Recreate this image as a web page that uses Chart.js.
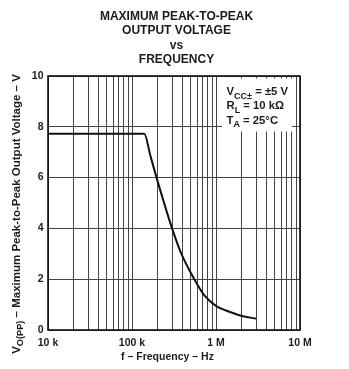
<!DOCTYPE html>
<html>
<head>
<meta charset="utf-8">
<script src="https://cdn.jsdelivr.net/npm/chart.js@4.4.1/dist/chart.umd.min.js"></script>
<style>
  html, body { margin: 0; padding: 0; background: #fff; }
  canvas { display: block; }
</style>
</head>
<body>
<canvas id="vppChart" width="349" height="369"></canvas>
<script>
// values
var freqHz = [10000, 140000, 165000, 200000, 300000, 383000, 552000, 740000, 1000000, 1500000, 2100000, 3000000];
var vppVolts = [7.73, 7.73, 6.88, 5.9, 4.0, 3.04, 2.0, 1.33, 0.95, 0.7, 0.54, 0.45];

var xTickValues = [1e4, 1e5, 1e6, 1e7];
var xTickLabels = ['10 k', '100 k', '1 M', '10 M'];
var yTickValues = [0, 2, 4, 6, 8, 10];

var titleLines = ['MAXIMUM PEAK-TO-PEAK', 'OUTPUT VOLTAGE', 'vs', 'FREQUENCY'];
var xTitle = 'f \u2013 Frequency \u2013 Hz';
var yTitleRuns = [{t: 'V'}, {t: 'O(PP)', sub: true}, {t: ' \u2013 Maximum Peak-to-Peak Output Voltage \u2013 V'}];
var noteRows = [
    [{t: 'V'}, {t: 'CC\u00b1', sub: true}, {t: ' = \u00b15 V'}],
    [{t: 'R'}, {t: 'L', sub: true}, {t: ' = 10 k\u03a9'}],
    [{t: 'T'}, {t: 'A', sub: true}, {t: ' = 25\u00b0C'}]
];

// grid positions: 1..9 in every decade
var xGridValues = [];
for (var d = 1e4; d < 1e7; d *= 10) {
    for (var m = 1; m < 10; m++) xGridValues.push(m * d);
}
xGridValues.push(1e7);

var FONT = '"Liberation Sans", Arial, sans-serif';
var INK = '#1c1c1c';

function runFont(size, sub) {
    return 'bold ' + (sub ? size * 0.8 : size) + 'px ' + FONT;
}
function runsWidth(ctx, runs, size) {
    var w = 0;
    runs.forEach(function (r) { ctx.font = runFont(size, r.sub); w += ctx.measureText(r.t).width; });
    return w;
}
function drawRuns(ctx, runs, x, y, size) {
    runs.forEach(function (r) {
        ctx.font = runFont(size, r.sub);
        ctx.fillText(r.t, x, y + (r.sub ? size * 0.32 : 0));
        x += ctx.measureText(r.t).width;
    });
}

var extras = {
    id: 'extras',
    beforeDatasetsDraw: function (chart) {
        var ctx = chart.ctx;
        ctx.save();
        ctx.fillStyle = '#fff';
        ctx.fillRect(222, 78.5, 70, 53);
        ctx.fillStyle = INK;
        ctx.textAlign = 'left';
        ctx.textBaseline = 'alphabetic';
        noteRows.forEach(function (row, i) {
            drawRuns(ctx, row, 226.5, 95 + i * 14.3, 11.3);
        });
        ctx.restore();
    },
    afterDraw: function (chart) {
        var ctx = chart.ctx;
        var a = chart.chartArea;
        ctx.save();
        // plot frame
        ctx.strokeStyle = '#111';
        ctx.lineWidth = 1.6;
        ctx.strokeRect(a.left, a.top, a.right - a.left, a.bottom - a.top);

        ctx.fillStyle = INK;
        ctx.textAlign = 'center';
        ctx.textBaseline = 'middle';
        ctx.font = 'bold 12px ' + FONT;
        titleLines.forEach(function (line, i) {
            ctx.fillText(line, 176.5, 16.3 + i * 14.6);
        });

        ctx.font = 'bold 10.5px ' + FONT;
        ctx.fillText(xTitle, 167.5, 357);

        ctx.translate(17, 214);
        ctx.rotate(-Math.PI / 2);
        ctx.textAlign = 'left';
        var w = runsWidth(ctx, yTitleRuns, 11.5);
        drawRuns(ctx, yTitleRuns, -w / 2, 0, 11.5);
        ctx.restore();
    }
};

var ctx = document.getElementById('vppChart').getContext('2d');
var vppChart = new Chart(ctx, {
    type: 'line',
    data: {
        datasets: [{
            data: freqHz.map(function (f, i) { return {x: f, y: vppVolts[i]}; }),
            borderColor: '#111',
            borderWidth: 2,
            pointRadius: 0,
            fill: false,
            cubicInterpolationMode: 'monotone'
        }]
    },
    options: {
        responsive: false,
        animation: false,
        devicePixelRatio: 1,
        layout: { padding: { top: 76, right: 49, bottom: 0, left: 0 } },
        plugins: { legend: { display: false }, tooltip: { enabled: false } },
        scales: {
            x: {
                type: 'logarithmic',
                min: 1e4,
                max: 1e7,
                afterBuildTicks: function (s) {
                    s.ticks = xGridValues.map(function (v) { return {value: v}; });
                },
                afterFit: function (s) { s.height = 39; },
                grid: { color: '#444', lineWidth: 1, drawTicks: false },
                border: { display: false },
                ticks: {
                    autoSkip: false,
                    maxRotation: 0,
                    padding: 7,
                    color: INK,
                    font: { family: FONT, size: 10.5, weight: 'bold' },
                    callback: function (v) {
                        var i = xTickValues.indexOf(v);
                        return i < 0 ? '' : xTickLabels[i];
                    }
                }
            },
            y: {
                min: 0,
                max: 10,
                afterBuildTicks: function (s) {
                    s.ticks = yTickValues.map(function (v) { return {value: v}; });
                },
                afterFit: function (s) { s.width = 48; },
                grid: { color: '#444', lineWidth: 1, drawTicks: false },
                border: { display: false },
                ticks: {
                    padding: 4.5,
                    color: INK,
                    font: { family: FONT, size: 10.5, weight: 'bold' }
                }
            }
        }
    },
    plugins: [extras]
});
</script>
</body>
</html>
